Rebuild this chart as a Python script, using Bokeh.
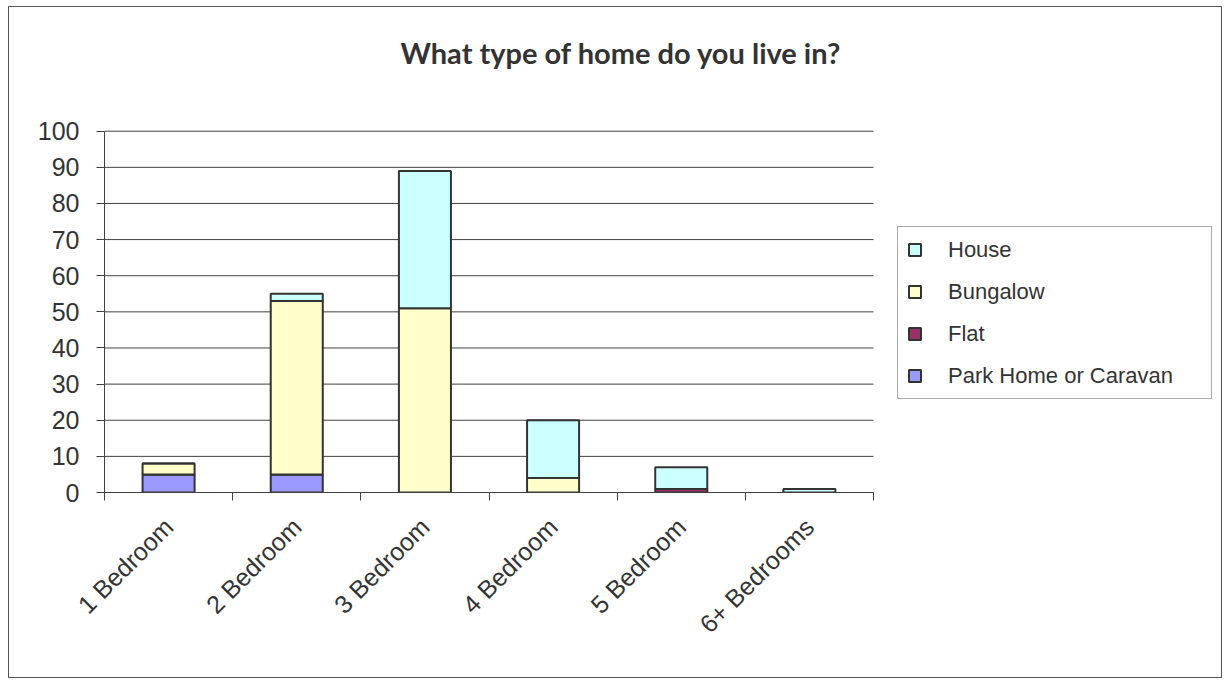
from math import pi
from bokeh.plotting import figure
from bokeh.models import FixedTicker, Legend, LegendItem, ColumnDataSource, Label
from bokeh.embed import file_html
from bokeh.resources import INLINE

title_text = "What type of home do you live in?"
categories = ["1 Bedroom", "2 Bedroom", "3 Bedroom", "4 Bedroom", "5 Bedroom", "6+ Bedrooms"]
park = [5, 5, 0, 0, 0, 0]
flat = [0, 0, 0, 0, 1, 0]
bungalow = [3, 48, 51, 4, 0, 0]
house = [0, 2, 38, 16, 6, 1]
series = ["Park Home or Caravan", "Flat", "Bungalow", "House"]
colors = ["#9999FF", "#993366", "#FFFFCC", "#CCFFFF"]
y_ticks = list(range(0, 101, 10))

n = len(categories)
xpos = [i + 0.5 for i in range(n)]
source = ColumnDataSource(dict(x=xpos, park=park, flat=flat, bungalow=bungalow, house=house))

# the plot area spans to the right and top edges so that the legend and the
# title can sit inside it; the value axis covers 0..100 and categories 0..n
x_end = n * 1119 / 769
y_end = 100 * 485 / 361.3

p = figure(width=1214, height=672, x_range=(0, x_end), y_range=(0, y_end),
           output_backend="svg", toolbar_location=None,
           min_border_left=95, min_border_right=0, min_border_top=0, min_border_bottom=187)
p.styles = {"border": "1px solid #555555", "margin-left": "8px", "margin-top": "6px"}
p.outline_line_color = None

# horizontal grid lines limited to the category area
p.segment(x0=[0] * len(y_ticks), x1=[n] * len(y_ticks), y0=y_ticks, y1=y_ticks,
          line_color="#404040", line_width=1)

renderers = p.vbar_stack(["park", "flat", "bungalow", "house"], x="x", width=0.406,
                         source=source, fill_color=colors, line_color="#333333", line_width=2)

# title
title = Label(text=title_text, x=296, y=440, x_units="screen", y_units="screen",
              text_font="Lato", text_font_size="29px", text_font_style="bold",
              text_color="#333333", text_baseline="alphabetic", text_align="left")
p.add_layout(title)

# axes
p.xgrid.grid_line_color = None
p.ygrid.grid_line_color = None

p.yaxis.bounds = (0, 100)
p.yaxis.ticker = FixedTicker(ticks=y_ticks)
p.yaxis.axis_line_color = "#404040"
p.yaxis.major_tick_line_color = "#404040"
p.yaxis.major_tick_out = 8
p.yaxis.major_tick_in = 0
p.yaxis.minor_tick_line_color = None
p.yaxis.major_label_text_font = "Liberation Sans"
p.yaxis.major_label_text_font_size = "25px"
p.yaxis.major_label_text_color = "#333333"
p.yaxis.major_label_standoff = 17

p.xaxis.bounds = (0, n)
p.xaxis.ticker = FixedTicker(ticks=xpos, minor_ticks=list(range(n + 1)))
p.xaxis.major_label_overrides = {x: c for x, c in zip(xpos, categories)}
p.xaxis.axis_line_color = "#404040"
p.xaxis.major_tick_line_color = None
p.xaxis.major_tick_out = 0
p.xaxis.major_tick_in = 0
p.xaxis.minor_tick_line_color = "#404040"
p.xaxis.minor_tick_out = 8
p.xaxis.minor_tick_in = 0
p.xaxis.major_label_orientation = pi / 4
p.xaxis.major_label_text_font = "Liberation Sans"
p.xaxis.major_label_text_font_size = "25px"
p.xaxis.major_label_text_color = "#333333"
p.xaxis.major_label_standoff = 22

items = [LegendItem(label=s, renderers=[r]) for s, r in zip(series, renderers)][::-1]
legend = Legend(items=items, location=(793, 93), margin=0, padding=9,
                glyph_width=15, glyph_height=15, label_height=27, spacing=15,
                label_standoff=26, label_width=254,
                label_text_font="Liberation Sans", label_text_font_size="22px",
                label_text_color="#333333",
                border_line_color="#555555", border_line_width=1,
                background_fill_color="white")
p.add_layout(legend)

open("out.html", "w").write(file_html(p, INLINE))
